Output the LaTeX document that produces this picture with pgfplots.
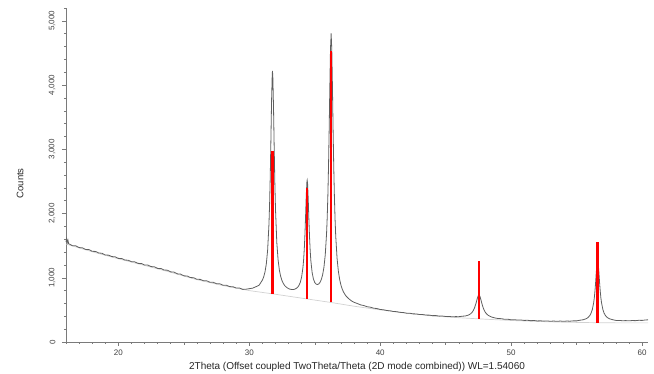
\documentclass[border=0pt]{standalone}
\usepackage{pgfplots}
\pgfplotsset{compat=1.18}
\usepackage{fontspec}
\setmainfont{Liberation Sans}
\definecolor{axgray}{HTML}{7A7A7A}
\definecolor{datagray}{HTML}{5F5F5F}
\definecolor{bggray}{HTML}{D2D2D2}
\begin{document}
\begin{tikzpicture}
\begin{axis}[
  at={(0,0)}, anchor=south west,
  scale only axis, width=582pt, height=334pt,
  xmin=16, xmax=60.45, ymin=0, ymax=5200,
  axis x line=bottom, axis y line=left,
  axis line style={-, draw=axgray, line width=0.6pt},
  tick align=outside,
  tick style={draw=axgray, line width=0.5pt},
  major tick length=4pt, minor tick length=2pt,
  xtick={20,30,40,50,60},
  minor xtick={16,17,...,60},
  extra x ticks={25,35,45,55},
  extra x tick labels={},
  extra x tick style={major tick length=3pt},
  ytick={0,1000,2000,3000,4000,5000},
  minor ytick={0,200,...,5200},
  xticklabel style={font=\fontsize{8}{9}\selectfont, text=black!75},
  yticklabel style={xshift=-3pt, rotate=90, anchor=south, font=\fontsize{8}{9}\selectfont, text=black!75},
  /pgf/number format/1000 sep={,},
  /pgf/number format/assume math mode=true,
  xlabel={2Theta (Offset coupled TwoTheta/Theta (2D mode combined)) WL=1.54060},
  ylabel={Counts},
  every axis x label/.style={at={(axis description cs:0.5,0)}, anchor=center, yshift=-25pt, font=\fontsize{10}{11}\selectfont, text=black!85},
  every axis y label/.style={at={(axis description cs:0,0.475)}, xshift=-46pt, rotate=90, anchor=center, font=\fontsize{9.5}{10}\selectfont, text=black!85},
  clip=false,
]
% fitted background
\addplot[color=bggray, line width=0.7pt] coordinates {
(16,1525) (18,1405) (20,1295) (22,1192) (24,1085) (26,970) (28,878) (30,800)
(31.77,750) (34.42,670) (36.25,615) (38,557) (40,500) (42,448) (44,406) (46,378)
(47.54,360) (50,335) (52,320) (54,308) (56.6,300) (58,298) (60.45,298)
};
% measured pattern
\addplot[color=datagray, line width=0.8pt] coordinates {
(16.00,1560) (16.05,1605) (16.10,1548) (16.15,1585) (16.20,1532) (16.25,1526)
(16.50,1498) (16.75,1497) (17.00,1470) (17.25,1466) (17.50,1441) (17.75,1439)
(18.00,1412) (18.25,1410) (18.50,1386) (18.75,1381) (19.00,1354) (19.25,1352)
(19.50,1330) (19.75,1326) (20.00,1302) (20.25,1300) (20.50,1276) (20.75,1273)
(21.00,1250) (21.25,1248) (21.50,1224) (21.75,1223) (22.00,1199) (22.25,1197)
(22.50,1174) (22.75,1171) (23.00,1146) (23.25,1144) (23.50,1120) (23.75,1118)
(24.00,1092) (24.25,1088) (24.50,1061) (24.75,1057) (25.00,1030) (25.25,1028)
(25.50,1003) (25.75,1001) (26.00,976) (26.25,975) (26.50,953) (26.75,952)
(27.00,930) (27.25,929) (27.50,907) (27.75,906) (28.00,884) (28.25,884)
(28.50,862) (28.75,861) (29.00,840) (29.25,840) (29.50,819) (29.75,822)
(30.00,830) (30.25,838) (30.50,860) (30.75,884)
(31.00,964) (31.10,1015) (31.20,1092) (31.30,1217) (31.40,1432) (31.50,1829)
(31.55,2148) (31.60,2586) (31.65,3147) (31.70,3754) (31.75,4161) (31.77,4220)
(31.80,4109) (31.85,3639) (31.90,3026) (31.95,2483) (32.00,2069) (32.10,1549)
(32.20,1274) (32.30,1114) (32.40,1018) (32.50,954) (32.60,912) (32.70,879)
(32.80,859) (32.90,843) (33.00,831) (33.10,823) (33.20,819) (33.30,817)
(33.40,818) (33.50,825) (33.60,836) (33.70,854) (33.80,884) (33.90,933)
(34.00,1017) (34.10,1167) (34.15,1286) (34.20,1451) (34.25,1678) (34.30,1968)
(34.35,2285) (34.40,2496) (34.42,2517) (34.45,2471) (34.50,2226) (34.55,1910)
(34.60,1632) (34.65,1420) (34.70,1266) (34.80,1078) (34.90,978) (35.00,926)
(35.10,902) (35.20,895) (35.30,903) (35.40,928) (35.50,973) (35.60,1046)
(35.70,1163) (35.80,1356) (35.90,1686) (35.95,1939) (36.00,2279) (36.05,2733)
(36.10,3313) (36.15,3976) (36.20,4561) (36.25,4803) (36.30,4556) (36.35,3965)
(36.40,3297) (36.45,2713) (36.50,2254) (36.55,1908) (36.60,1651) (36.70,1309)
(36.80,1104) (36.90,974) (37.00,884) (37.10,822) (37.20,776) (37.30,742)
(37.40,713) (37.50,692) (37.60,673) (37.80,640)
(38.00,618) (38.25,599) (38.50,578) (38.75,567) (39.00,549) (39.25,542)
(39.50,526) (39.75,521) (40.00,506) (40.25,502) (40.50,490) (40.75,486)
(41.00,475) (41.25,472) (41.50,462) (41.75,459) (42.00,449) (42.25,448)
(42.50,438) (42.75,437) (43.00,428) (43.25,427) (43.50,419) (43.75,418)
(44.00,410) (44.25,411) (44.50,403) (44.75,404) (45.00,397) (45.25,398)
(45.50,392) (45.75,395) (46.00,394) (46.25,401) (46.50,405) (46.75,420)
(46.90,439) (47.00,458) (47.10,487) (47.20,530) (47.30,592) (47.40,668)
(47.45,702) (47.50,726) (47.54,732) (47.60,717) (47.65,687) (47.70,649)
(47.80,572) (47.90,513) (48.00,471) (48.10,442) (48.25,414) (48.50,389)
(48.75,375) (49.00,365) (49.25,363) (49.50,353) (49.75,354) (50.00,346)
(50.25,347) (50.50,341) (50.75,342) (51.00,336) (51.25,338) (51.50,332)
(51.75,334) (52.00,328) (52.25,330) (52.50,325) (52.75,327) (53.00,323)
(53.25,326) (53.50,322) (53.75,326) (54.00,322) (54.25,326) (54.50,324)
(54.75,329) (55.00,329) (55.25,339) (55.50,346) (55.70,360) (55.80,371)
(55.90,387) (56.00,411) (56.10,447) (56.20,507) (56.30,611) (56.35,689)
(56.40,795) (56.45,929) (56.50,1083) (56.55,1218) (56.60,1275) (56.65,1218)
(56.70,1083) (56.75,929) (56.80,795) (56.85,689) (56.90,611) (57.00,508)
(57.10,448) (57.20,412) (57.30,388) (57.40,373) (57.50,362) (57.75,347)
(58.00,336) (58.25,336) (58.50,331) (58.75,333) (59.00,330) (59.25,334)
(59.50,332) (59.75,338) (60.00,336) (60.25,343) (60.45,345)
};
% reference sticks
\addplot[color=red, line width=2.4pt] coordinates {(31.77,750) (31.77,2980)};
\addplot[color=red, line width=2.4pt] coordinates {(34.42,670) (34.42,2400)};
\addplot[color=red, line width=2.4pt] coordinates {(36.25,615) (36.25,4530)};
\addplot[color=red, line width=2.4pt] coordinates {(47.54,360) (47.54,1260)};
\addplot[color=red, line width=2.4pt] coordinates {(56.60,300) (56.60,1555)};
\end{axis}
\pgfresetboundingbox
\useasboundingbox (-66pt,-32pt) rectangle (588pt,342pt);
\end{tikzpicture}
\end{document}
